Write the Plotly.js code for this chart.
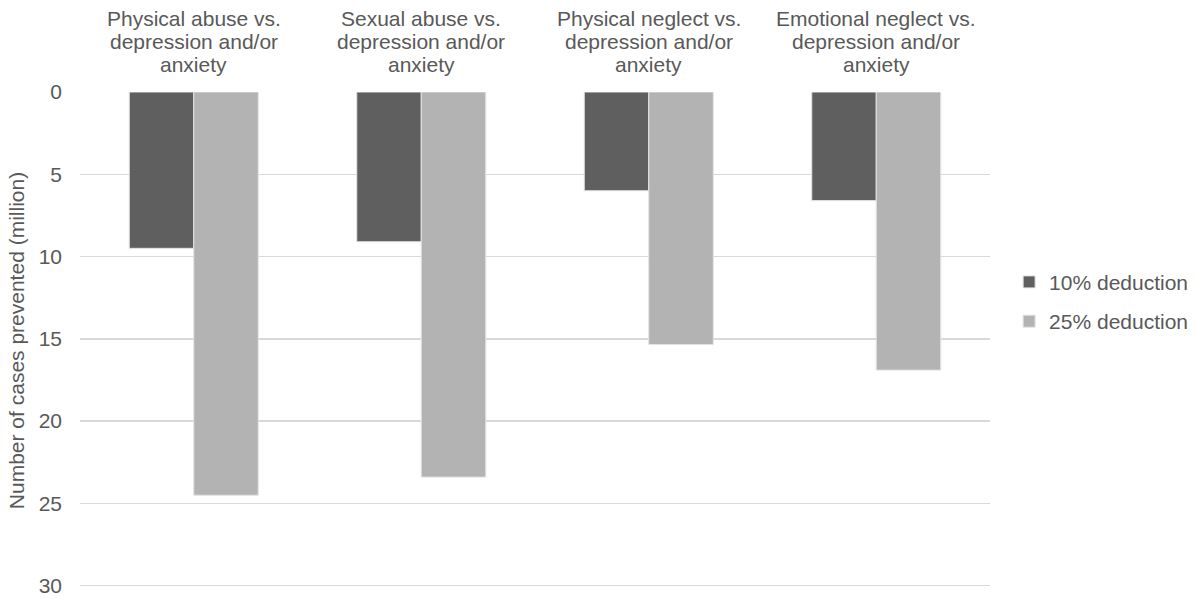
<!DOCTYPE html>
<html>
<head>
<meta charset="utf-8">
<script src="https://cdn.plot.ly/plotly-3.0.1.min.js"></script>
<style>
  html, body { margin: 0; padding: 0; background: #ffffff; }
  #chart { width: 1195px; height: 599px; }
</style>
</head>
<body>
<div id="chart"></div>
<script>
// Comparisons of maltreatment type vs. depression and/or anxiety
const categories = [
  "Physical abuse vs.<br>depression and/or<br>anxiety",
  "Sexual abuse vs.<br>depression and/or<br>anxiety",
  "Physical neglect vs.<br>depression and/or<br>anxiety",
  "Emotional neglect vs.<br>depression and/or<br>anxiety"
];

// Number of cases prevented (million)
const deduction10 = [9.5, 9.1, 6.0, 6.6];
const deduction25 = [24.5, 23.4, 15.35, 16.9];

const seriesNames = ["10% deduction", "25% deduction"];
const yTicks = [0, 5, 10, 15, 20, 25, 30];

const textColor = "#595959";
const fontFamily = "Liberation Sans, Arial, sans-serif";
const fontSize = 21;
const labelLineHeight = 23;

const traces = [
  {
    type: "bar",
    name: seriesNames[0],
    x: categories,
    y: deduction10,
    legendgroup: "a",
    marker: { color: "#5f5f5f", line: { color: "#e3e3e3", width: 1 } },
    hoverinfo: "y"
  },
  {
    type: "bar",
    name: seriesNames[1],
    x: categories,
    y: deduction25,
    legendgroup: "b",
    marker: { color: "#b3b3b3", line: { color: "#e3e3e3", width: 1 } },
    hoverinfo: "y"
  }
];

// Category labels above the plot, one annotation per line for tighter leading
const labelAnnotations = [];
categories.forEach(function (cat) {
  const lines = cat.split("<br>");
  lines.forEach(function (line, j) {
    labelAnnotations.push({
      x: cat,
      xref: "x",
      y: 1,
      yref: "paper",
      yanchor: "bottom",
      xanchor: "center",
      yshift: 14 + (lines.length - 1 - j) * labelLineHeight,
      text: line,
      showarrow: false,
      font: { family: fontFamily, size: fontSize, color: textColor }
    });
  });
});

const layout = {
  width: 1195,
  height: 599,
  margin: { l: 80, r: 205, t: 92, b: 10, autoexpand: false },
  paper_bgcolor: "#ffffff",
  plot_bgcolor: "#ffffff",
  font: { family: fontFamily, size: fontSize, color: textColor },
  barmode: "group",
  bargap: 0.433,
  bargroupgap: 0,
  showlegend: true,
  legend: {
    x: 1.021,
    xanchor: "left",
    y: 0.578,
    yanchor: "middle",
    traceorder: "grouped",
    tracegroupgap: 9,
    font: { family: fontFamily, size: fontSize, color: textColor },
    itemwidth: 30,
    bgcolor: "rgba(0,0,0,0)"
  },
  annotations: labelAnnotations,
  xaxis: {
    side: "top",
    type: "category",
    showgrid: false,
    showline: false,
    zeroline: false,
    ticks: "",
    showticklabels: false
  },
  yaxis: {
    range: [30.2, 0],
    tickvals: yTicks,
    ticktext: yTicks.map(String),
    showgrid: true,
    gridcolor: "#d9d9d9",
    gridwidth: 1.5,
    zeroline: false,
    showline: false,
    ticks: "",
    ticklabelstandoff: 17,
    tickfont: { family: fontFamily, size: fontSize, color: textColor },
    title: {
      text: "Number of cases prevented (million)",
      font: { family: fontFamily, size: fontSize, color: textColor },
      standoff: 8
    }
  }
};

Plotly.newPlot("chart", traces, layout, { displayModeBar: false, staticPlot: true });
</script>
</body>
</html>
